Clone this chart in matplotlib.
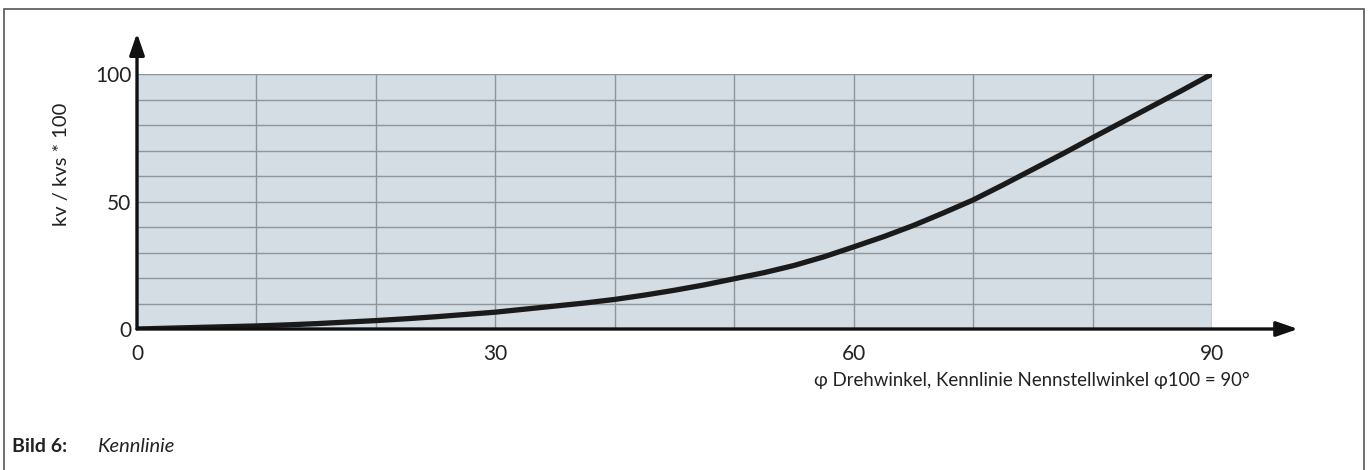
import matplotlib.pyplot as plt
from matplotlib.patches import Polygon

plt.rcParams['font.family'] = ['Lato', 'DejaVu Sans']

# characteristic curve (every 2.5 degrees)
angle = [0, 2.5, 5, 7.5, 10, 12.5, 15, 17.5, 20, 22.5, 25, 27.5, 30, 32.5, 35, 37.5,
         40, 42.5, 45, 47.5, 50, 52.5, 55, 57.5, 60, 62.5, 65, 67.5, 70, 72.5, 75,
         77.5, 80, 82.5, 85, 87.5, 90]
kv_kvs = [0, 0.3, 0.6, 0.9, 1.2, 1.6, 2.1, 2.7, 3.3, 4.0, 4.8, 5.7, 6.6, 7.8, 9.0, 10.2,
          11.6, 13.3, 15.2, 17.3, 19.7, 22.1, 24.9, 28.3, 32.2, 36.2, 40.6, 45.5, 50.6, 56.5, 62.6,
          68.7, 75.0, 81.2, 87.4, 93.6, 100]

x_ticks = list(range(0, 91, 10))
x_labels = ['0', '', '', '30', '', '', '60', '', '', '90']
y_ticks = list(range(0, 101, 10))
y_labels = ['0', '', '', '', '', '50', '', '', '', '', '100']

x_title = 'φ Drehwinkel, Kennlinie Nennstellwinkel φ100 = 90°'
y_title = 'kv / kvs * 100'

W, H = 1371, 470
fig = plt.figure(figsize=(W / 100, H / 100), dpi=100)

# outer frame
fig.add_artist(Polygon([[4 / W, 0], [4 / W, 1 - 9 / H], [1364 / W, 1 - 9 / H], [1364 / W, 0]],
                       closed=False, fill=False, edgecolor='#555555', lw=1.2,
                       transform=fig.transFigure))

ax = fig.add_axes([137 / W, (H - 329) / H, 1075 / W, 255 / H])
ax.set_facecolor('#d4dce4')
ax.set_xlim(0, 90)
ax.set_ylim(0, 100)
for s in ax.spines.values():
    s.set_visible(False)

ax.set_xticks(x_ticks)
ax.set_xticklabels(x_labels, fontsize=15, color='#222222')
ax.set_yticks(y_ticks)
ax.set_yticklabels(y_labels, fontsize=15, color='#222222')
ax.tick_params(axis='x', length=0, pad=11)
ax.tick_params(axis='y', length=0, pad=4)
ax.grid(True, color='#8e959c', lw=1.0)
ax.set_axisbelow(True)

ax.plot(angle, kv_kvs, color='#1a1a1a', lw=3.8, solid_joinstyle='round',
        solid_capstyle='butt', zorder=5)

# axis arrows
arrow = dict(arrowstyle='-|>,head_length=1.3,head_width=0.45', color='#111111', lw=2.4,
             shrinkA=0, shrinkB=0)
ax.annotate('', xy=(0, 116), xytext=(0, 0), arrowprops=arrow, annotation_clip=False, zorder=6)
ax.annotate('', xy=(97.2, 0), xytext=(0, 0), arrowprops=arrow, annotation_clip=False, zorder=6)

fig.text(1250 / W, 1 - 380 / H, x_title, ha='right', va='center', fontsize=13.4, color='#222222')
fig.text(62 / W, 1 - 164 / H, y_title, ha='center', va='center', rotation=90,
         fontsize=14.5, color='#222222')

fig.text(12 / W, 1 - 447 / H, 'Bild 6:', ha='left', va='center', fontsize=14,
         fontweight='bold', color='#222222')
fig.text(97 / W, 1 - 447 / H, 'Kennlinie', ha='left', va='center', fontsize=14.5,
         style='italic', color='#222222')

fig.savefig('out.png', dpi=100)
